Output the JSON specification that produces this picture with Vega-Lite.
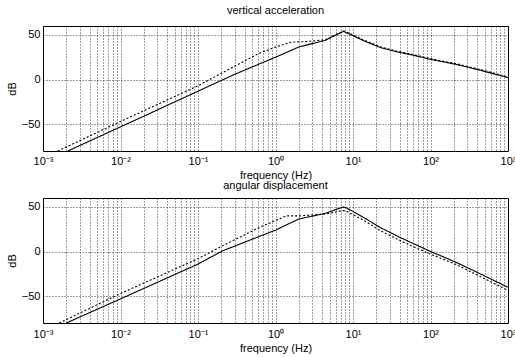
{
  "$schema": "https://vega.github.io/schema/vega-lite/v6.json",
  "background": "white",
  "padding": {"left": 5, "top": 4, "right": 0, "bottom": 0},
  "config": {
    "font": "Liberation Sans",
    "view": {"stroke": "black", "strokeWidth": 1},
    "concat": {"spacing": -2},
    "title": {"fontSize": 11, "fontWeight": "normal", "color": "black", "offset": 10},
    "axis": {
      "domain": false,
      "ticks": false,
      "grid": true,
      "gridColor": "black",
      "gridDash": [1, 2],
      "gridOpacity": 0.75,
      "gridWidth": 1,
      "labelFontSize": 11,
      "labelColor": "black",
      "titleFontSize": 11,
      "titleFontWeight": "normal",
      "titleColor": "black"
    }
  },
  "datasets": {
    "curves": [
      {"p": "top", "s": "solid", "f": 0.00209, "db": -80},
      {"p": "top", "s": "solid", "f": 0.01, "db": -53},
      {"p": "top", "s": "solid", "f": 0.1, "db": -13},
      {"p": "top", "s": "solid", "f": 0.3, "db": 6},
      {"p": "top", "s": "solid", "f": 0.6, "db": 17},
      {"p": "top", "s": "solid", "f": 1, "db": 25},
      {"p": "top", "s": "solid", "f": 2, "db": 36.5},
      {"p": "top", "s": "solid", "f": 4.4, "db": 44},
      {"p": "top", "s": "solid", "f": 7.5, "db": 54},
      {"p": "top", "s": "solid", "f": 9, "db": 51},
      {"p": "top", "s": "solid", "f": 13.8, "db": 43.4},
      {"p": "top", "s": "solid", "f": 22.4, "db": 36},
      {"p": "top", "s": "solid", "f": 37, "db": 31},
      {"p": "top", "s": "solid", "f": 60, "db": 27.3},
      {"p": "top", "s": "solid", "f": 98, "db": 22.8},
      {"p": "top", "s": "solid", "f": 220, "db": 16.8},
      {"p": "top", "s": "solid", "f": 440, "db": 10.4},
      {"p": "top", "s": "solid", "f": 1000, "db": 2.2},
      {"p": "top", "s": "dotted", "f": 0.00155, "db": -80},
      {"p": "top", "s": "dotted", "f": 0.01, "db": -47},
      {"p": "top", "s": "dotted", "f": 0.1, "db": -7},
      {"p": "top", "s": "dotted", "f": 0.21, "db": 8},
      {"p": "top", "s": "dotted", "f": 0.6, "db": 29},
      {"p": "top", "s": "dotted", "f": 1, "db": 36.5},
      {"p": "top", "s": "dotted", "f": 1.6, "db": 42},
      {"p": "top", "s": "dotted", "f": 2.4, "db": 42.5},
      {"p": "top", "s": "dotted", "f": 4.4, "db": 44.5},
      {"p": "top", "s": "dotted", "f": 7.5, "db": 54.5},
      {"p": "top", "s": "dotted", "f": 9, "db": 51.8},
      {"p": "top", "s": "dotted", "f": 13.8, "db": 44.2},
      {"p": "top", "s": "dotted", "f": 22.4, "db": 36.8},
      {"p": "top", "s": "dotted", "f": 37, "db": 31.8},
      {"p": "top", "s": "dotted", "f": 60, "db": 28},
      {"p": "top", "s": "dotted", "f": 98, "db": 23.6},
      {"p": "top", "s": "dotted", "f": 220, "db": 17.6},
      {"p": "top", "s": "dotted", "f": 440, "db": 11.2},
      {"p": "top", "s": "dotted", "f": 1000, "db": 3},
      {"p": "bottom", "s": "solid", "f": 0.002, "db": -80},
      {"p": "bottom", "s": "solid", "f": 0.01, "db": -53},
      {"p": "bottom", "s": "solid", "f": 0.1, "db": -14},
      {"p": "bottom", "s": "solid", "f": 0.21, "db": 1},
      {"p": "bottom", "s": "solid", "f": 1, "db": 24},
      {"p": "bottom", "s": "solid", "f": 2, "db": 36.5},
      {"p": "bottom", "s": "solid", "f": 4.4, "db": 42.8},
      {"p": "bottom", "s": "solid", "f": 7.5, "db": 50},
      {"p": "bottom", "s": "solid", "f": 8.3, "db": 48.8},
      {"p": "bottom", "s": "solid", "f": 13.8, "db": 38},
      {"p": "bottom", "s": "solid", "f": 22.4, "db": 27},
      {"p": "bottom", "s": "solid", "f": 37, "db": 17.5},
      {"p": "bottom", "s": "solid", "f": 60, "db": 9},
      {"p": "bottom", "s": "solid", "f": 98, "db": 0.5},
      {"p": "bottom", "s": "solid", "f": 220, "db": -12.5},
      {"p": "bottom", "s": "solid", "f": 440, "db": -25},
      {"p": "bottom", "s": "solid", "f": 1000, "db": -40},
      {"p": "bottom", "s": "dotted", "f": 0.00162, "db": -80},
      {"p": "bottom", "s": "dotted", "f": 0.01, "db": -47},
      {"p": "bottom", "s": "dotted", "f": 0.1, "db": -8},
      {"p": "bottom", "s": "dotted", "f": 0.21, "db": 6.7},
      {"p": "bottom", "s": "dotted", "f": 0.6, "db": 26.5},
      {"p": "bottom", "s": "dotted", "f": 1.38, "db": 40},
      {"p": "bottom", "s": "dotted", "f": 2, "db": 40},
      {"p": "bottom", "s": "dotted", "f": 4.4, "db": 42},
      {"p": "bottom", "s": "dotted", "f": 7.5, "db": 46},
      {"p": "bottom", "s": "dotted", "f": 8.3, "db": 45},
      {"p": "bottom", "s": "dotted", "f": 13.8, "db": 35},
      {"p": "bottom", "s": "dotted", "f": 22.4, "db": 23.5},
      {"p": "bottom", "s": "dotted", "f": 37, "db": 14},
      {"p": "bottom", "s": "dotted", "f": 60, "db": 5.5},
      {"p": "bottom", "s": "dotted", "f": 98, "db": -2.6},
      {"p": "bottom", "s": "dotted", "f": 220, "db": -15},
      {"p": "bottom", "s": "dotted", "f": 440, "db": -28},
      {"p": "bottom", "s": "dotted", "f": 1000, "db": -43.5}
    ]
  },
  "vconcat": [
    {
      "title": "vertical acceleration",
      "width": 465,
      "height": 125,
      "data": {"name": "curves"},
      "transform": [{"filter": "datum.p == 'top'"}],
      "mark": {"type": "line", "color": "black", "strokeWidth": 1.1, "clip": true},
      "encoding": {
        "x": {
          "field": "f", "type": "quantitative",
          "scale": {"type": "log", "domain": [0.001, 1000], "nice": false},
          "axis": {
            "title": "frequency (Hz)",
            "labelPadding": 4, "titlePadding": 3,
            "labelOverlap": false, "labelFlush": false,
            "values": [0.001,0.002,0.003,0.004,0.005,0.006,0.007,0.008,0.009,0.01,0.02,0.03,0.04,0.05,0.06,0.07,0.08,0.09,0.1,0.2,0.3,0.4,0.5,0.6,0.7,0.8,0.9,1,2,3,4,5,6,7,8,9,10,20,30,40,50,60,70,80,90,100,200,300,400,500,600,700,800,900,1000],
            "labelExpr": "datum.value == 0.001 ? '10⁻³' : datum.value == 0.01 ? '10⁻²' : datum.value == 0.1 ? '10⁻¹' : datum.value == 1 ? '10⁰' : datum.value == 10 ? '10¹' : datum.value == 100 ? '10²' : datum.value == 1000 ? '10³' : ''"
          }
        },
        "y": {
          "field": "db", "type": "quantitative",
          "scale": {"domain": [-80, 60], "nice": false},
          "axis": {"title": "dB", "values": [-50, 0, 50], "labelPadding": 3, "titlePadding": 4}
        },
        "strokeDash": {
          "field": "s", "type": "nominal",
          "scale": {"domain": ["solid", "dotted"], "range": [[1, 0], [2, 2]]},
          "legend": null
        }
      }
    },
    {
      "title": {"text": "angular displacement", "offset": 7},
      "width": 465,
      "height": 125,
      "data": {"name": "curves"},
      "transform": [{"filter": "datum.p == 'bottom'"}],
      "mark": {"type": "line", "color": "black", "strokeWidth": 1.1, "clip": true},
      "encoding": {
        "x": {
          "field": "f", "type": "quantitative",
          "scale": {"type": "log", "domain": [0.001, 1000], "nice": false},
          "axis": {
            "title": "frequency (Hz)",
            "labelPadding": 5, "titlePadding": 3,
            "labelOverlap": false, "labelFlush": false,
            "values": [0.001,0.002,0.003,0.004,0.005,0.006,0.007,0.008,0.009,0.01,0.02,0.03,0.04,0.05,0.06,0.07,0.08,0.09,0.1,0.2,0.3,0.4,0.5,0.6,0.7,0.8,0.9,1,2,3,4,5,6,7,8,9,10,20,30,40,50,60,70,80,90,100,200,300,400,500,600,700,800,900,1000],
            "labelExpr": "datum.value == 0.001 ? '10⁻³' : datum.value == 0.01 ? '10⁻²' : datum.value == 0.1 ? '10⁻¹' : datum.value == 1 ? '10⁰' : datum.value == 10 ? '10¹' : datum.value == 100 ? '10²' : datum.value == 1000 ? '10³' : ''"
          }
        },
        "y": {
          "field": "db", "type": "quantitative",
          "scale": {"domain": [-80, 60], "nice": false},
          "axis": {"title": "dB", "values": [-50, 0, 50], "labelPadding": 3, "titlePadding": 4}
        },
        "strokeDash": {
          "field": "s", "type": "nominal",
          "scale": {"domain": ["solid", "dotted"], "range": [[1, 0], [2, 2]]},
          "legend": null
        }
      }
    }
  ]
}
